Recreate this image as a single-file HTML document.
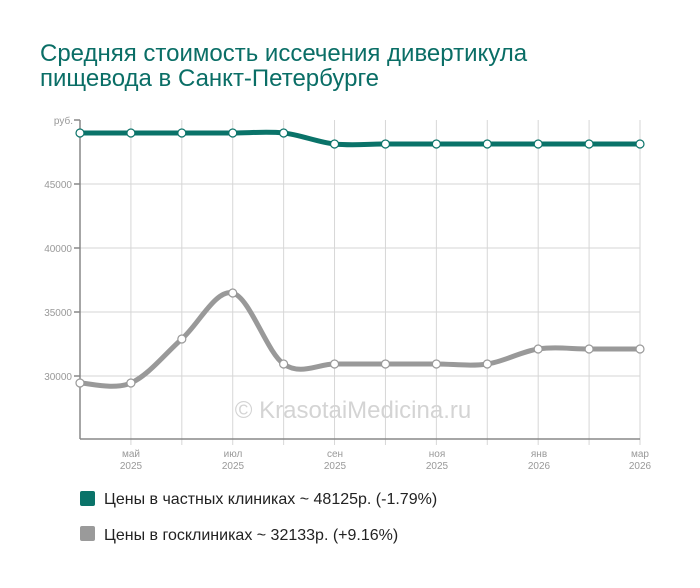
<!DOCTYPE html>
<html><head><meta charset="utf-8"><style>
body{margin:0;background:#fff;width:700px;height:583px;overflow:hidden;font-family:"Liberation Sans",sans-serif}
</style></head><body>
<svg width="700" height="583" xmlns="http://www.w3.org/2000/svg" font-family="Liberation Sans, sans-serif">
<text x="40" y="61" font-size="24" fill="#0a6e66">Средняя стоимость иссечения дивертикула</text>
<text x="40" y="86" font-size="24" fill="#0a6e66">пищевода в Санкт-Петербурге</text>
<g stroke="#d6d6d6" stroke-width="1" id="grid"></g>
<g stroke="#888" stroke-width="1.5">
<line x1="80" y1="120" x2="80" y2="439"/><line x1="80" y1="439" x2="640" y2="439"/>
<line x1="74" y1="120" x2="80" y2="120"/><line x1="74" y1="184" x2="80" y2="184"/><line x1="74" y1="248" x2="80" y2="248"/><line x1="74" y1="312" x2="80" y2="312"/><line x1="74" y1="376" x2="80" y2="376"/>
</g>
<g font-size="10" fill="#999" text-anchor="end">
<text x="73" y="124">руб.</text><text x="72" y="188">45000</text><text x="72" y="252">40000</text><text x="72" y="316">35000</text><text x="72" y="380">30000</text>
</g>
<g font-size="10" fill="#999" text-anchor="middle">
<text x="131" y="457">май</text><text x="131" y="469">2025</text>
<text x="233" y="457">июл</text><text x="233" y="469">2025</text>
<text x="335" y="457">сен</text><text x="335" y="469">2025</text>
<text x="437" y="457">ноя</text><text x="437" y="469">2025</text>
<text x="539" y="457">янв</text><text x="539" y="469">2026</text>
<text x="640" y="457">мар</text><text x="640" y="469">2026</text>
</g>
<text x="353" y="418" font-size="24" fill="#d4d4d4" text-anchor="middle">© KrasotaiMedicina.ru</text>
<path id="p1" fill="none" stroke="#0a7369" stroke-width="5"/>
<path id="p2" fill="none" stroke="#999" stroke-width="5"/>
<g id="pts" fill="#fff" stroke-width="1.2"></g>
<rect x="80" y="491" width="15" height="15" rx="2" fill="#0a7369"/>
<text x="104" y="504" font-size="16" fill="#222">Цены в частных клиниках ~ 48125р. (-1.79%)</text>
<rect x="80" y="526" width="15" height="15" rx="2" fill="#9a9a9a"/>
<text x="104" y="540" font-size="16" fill="#222">Цены в госклиниках ~ 32133р. (+9.16%)</text>
</svg>
<script>
var xs=[];for(var i=0;i<12;i++)xs.push(80+i*560/11);
var g=document.getElementById('grid'),h='';
xs.forEach(function(x,i){if(i>0)h+='<line x1="'+x+'" y1="120" x2="'+x+'" y2="445"/>';});
[184,248,312,376].forEach(function(y){h+='<line x1="80" y1="'+y+'" x2="640" y2="'+y+'"/>';});
g.innerHTML=h;
var a=[133,133,133,133,133,144,144,144,144,144,144,144];
var b=[383,383,339,293,364,364,364,364,364,349,349,349];
function path(y){var d='M'+xs[0]+','+y[0];for(var i=0;i<11;i++){var p0=i?i-1:0,p3=i<10?i+2:11;
var c1x=xs[i]+(xs[i+1]-xs[p0])/6,c1y=y[i]+(y[i+1]-y[p0])/6,c2x=xs[i+1]-(xs[p3]-xs[i])/6,c2y=y[i+1]-(y[p3]-y[i])/6;
d+=' C'+c1x+','+c1y+' '+c2x+','+c2y+' '+xs[i+1]+','+y[i+1];}return d;}
document.getElementById('p1').setAttribute('d',path(a));
document.getElementById('p2').setAttribute('d',path(b));
var s='';xs.forEach(function(x,i){s+='<circle cx="'+x+'" cy="'+a[i]+'" r="4" stroke="#0a7369"/><circle cx="'+x+'" cy="'+b[i]+'" r="4" stroke="#999"/>';});
document.getElementById('pts').innerHTML=s;
</script>
</body></html>
